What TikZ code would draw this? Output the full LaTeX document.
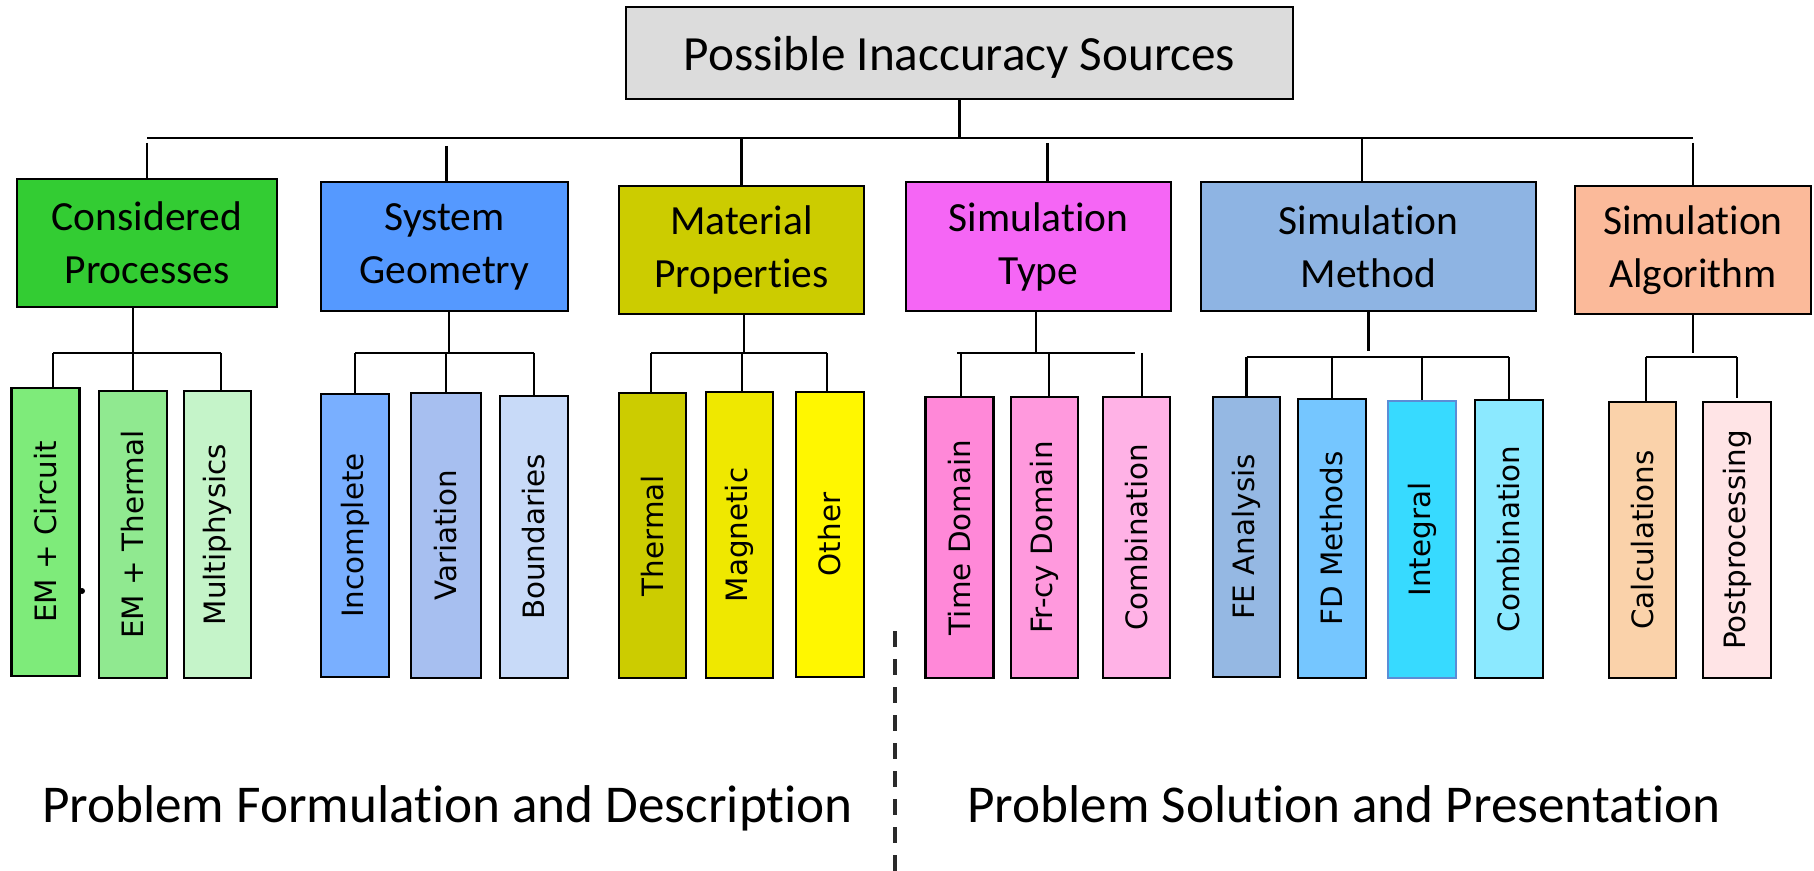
\documentclass[tikz,border=0pt]{standalone}
\usepackage{fontspec}
\usepackage{graphicx}
\setmainfont{Carlito}[Ligatures=NoCommon]
\newfontfamily\leaffont{DejaVu Sans}
\usetikzlibrary{calc}

% one drawing unit = one pixel of the layout grid
\newdimen\pu \pu=0.5pt
\newcommand\vtext[1]{\rotatebox{90}{#1}}

\definecolor{headgray}{HTML}{DCDCDC}
\definecolor{cpgreen}{HTML}{33CC33}
\definecolor{sgblue}{HTML}{5599FF}
\definecolor{mpolive}{HTML}{CCCC00}
\definecolor{stmag}{HTML}{F566F5}
\definecolor{smblue}{HTML}{8EB4E3}
\definecolor{saorange}{HTML}{FBBA9A}
\definecolor{lfA}{HTML}{7EEB7A}
\definecolor{lfB}{HTML}{90E990}
\definecolor{lfC}{HTML}{C5F4C9}
\definecolor{lfD}{HTML}{79AFFF}
\definecolor{lfE}{HTML}{A7BFF0}
\definecolor{lfF}{HTML}{C8DAF8}
\definecolor{lfG}{HTML}{CCCC00}
\definecolor{lfH}{HTML}{EFE800}
\definecolor{lfI}{HTML}{FFF700}
\definecolor{lfJ}{HTML}{FF88D8}
\definecolor{lfK}{HTML}{FF99DD}
\definecolor{lfL}{HTML}{FFB2E6}
\definecolor{lfM}{HTML}{95B8E3}
\definecolor{lfN}{HTML}{75C6FF}
\definecolor{lfO}{HTML}{37DAFF}
\definecolor{lfP}{HTML}{8BE9FF}
\definecolor{lfQ}{HTML}{FAD2AA}
\definecolor{lfR}{HTML}{FFE4E6}
\definecolor{intedge}{HTML}{5B8DD6}
\definecolor{divgray}{HTML}{2A2A2A}

\begin{document}
\begin{tikzpicture}[x=0.5pt,y=-0.5pt,
  box/.style={draw=black, line width=1.4pt, inner sep=0pt, align=center},
  head/.style={box, fill=headgray, font=\fontsize{24.6}{29}\selectfont,
    text height=20pt, text depth=2pt},
  cat/.style={box, font=\fontsize{20.75}{26.5}\selectfont},
  leaf/.style={box, font=\leaffont\fontsize{14.7}{17}\selectfont},
  foot/.style={inner sep=0pt, font=\fontsize{26.6}{31}\selectfont},
  conn/.style={draw=black, line width=1.1pt},
  divider/.style={draw=divgray, line width=1.9pt, dash pattern=on 8pt off 6pt},
  dotmark/.style={circle, fill=black, inner sep=0pt, minimum size=6\pu},
]
\useasboundingbox (0,0) rectangle (1814,871);

% root
\node[head, minimum width=667\pu, minimum height=92\pu] (root) at (959.5,53)
  {Possible Inaccuracy Sources};

% categories
\node[cat, fill=cpgreen,  minimum width=260\pu, minimum height=128\pu] (cp) at (147,243)    {Considered\\Processes};
\node[cat, fill=sgblue,   minimum width=247\pu, minimum height=129\pu] (sg) at (444.5,246.5) {System\\Geometry};
\node[cat, fill=mpolive,  minimum width=245\pu, minimum height=128\pu] (mp) at (741.5,250)  {Material\\Properties};
\node[cat, fill=stmag,    minimum width=265\pu, minimum height=129\pu] (st) at (1038.5,246.5) {Simulation\\Type};
\node[cat, fill=smblue,   minimum width=335\pu, minimum height=129\pu] (sm) at (1368.5,246.5) {Simulation\\Method};
\node[cat, fill=saorange, minimum width=236\pu, minimum height=128\pu] (sa) at (1693,250)   {Simulation\\Algorithm};

% leaves
\node[leaf, fill=lfA, minimum width=68\pu, minimum height=288\pu] (c11) at (45.5,532)  {\vtext{EM + Circuit}};
\node[leaf, fill=lfB, minimum width=68\pu, minimum height=287\pu] (c12) at (133,534.5)  {\vtext{EM + Thermal}};
\node[leaf, fill=lfC, minimum width=67\pu, minimum height=287\pu] (c13) at (217.5,534.5) {\vtext{Multiphysics}};

\node[leaf, fill=lfD, minimum width=68\pu, minimum height=283\pu] (c21) at (355,535.5) {\vtext{Incomplete}};
\node[leaf, fill=lfE, minimum width=70\pu, minimum height=285\pu] (c22) at (446,535.5) {\vtext{Variation}};
\node[leaf, fill=lfF, minimum width=68\pu, minimum height=282\pu] (c23) at (534,537)   {\vtext{Boundaries}};

\node[leaf, fill=lfG, minimum width=67\pu, minimum height=285\pu] (c31) at (652.5,535.5) {\vtext{Thermal}};
\node[leaf, fill=lfH, minimum width=67\pu, minimum height=286\pu] (c32) at (739.5,535)   {\vtext{Magnetic}};
\node[leaf, fill=lfI, minimum width=68\pu, minimum height=285\pu] (c33) at (830,534.5)   {\vtext{Other}};

\node[leaf, fill=lfJ, minimum width=68\pu, minimum height=281\pu] (c41) at (959.5,537.5)  {\vtext{Time Domain}};
\node[leaf, fill=lfK, minimum width=67\pu, minimum height=281\pu] (c42) at (1044.5,537.5) {\vtext{Fr-cy Domain}};
\node[leaf, fill=lfL, minimum width=67\pu, minimum height=281\pu] (c43) at (1136.5,537.5) {\vtext{Combination}};

\node[leaf, fill=lfM, minimum width=67\pu, minimum height=280\pu] (c51) at (1246.5,537)  {\vtext{FE Analysis}};
\node[leaf, fill=lfN, minimum width=68\pu, minimum height=279\pu] (c52) at (1332,538.5)  {\vtext{FD Methods}};
\node[leaf, fill=lfO, draw=intedge, line width=1pt, minimum width=68\pu, minimum height=277\pu] (c53) at (1422,539.5) {\vtext{Integral}};
\node[leaf, fill=lfP, minimum width=68\pu, minimum height=278\pu] (c54) at (1509,539)   {\vtext{Combination}};

\node[leaf, fill=lfQ, minimum width=67\pu, minimum height=276\pu] (c61) at (1642.5,540) {\vtext{Calculations}};
\node[leaf, fill=lfR, minimum width=68\pu, minimum height=276\pu] (c62) at (1737,540)   {\vtext{Postprocessing}};

% stray mark beside the first leaf
\node[dotmark] (dot) at (82,591) {};

% bottom captions and divider
\node[foot, anchor=base] (pfd) at (447.5,822) {Problem Formulation and Description};
\node[foot, anchor=base] (psp) at (1344,822) {Problem Solution and Presentation};
\coordinate (divT) at (895,631);
\coordinate (divB) at (895,871);
\draw[divider] (divT) -- (divB);

% main bus
\coordinate (busW) at (147,138);
\coordinate (busE) at (1693,138);
\coordinate (gapT) at (0,143);
\coordinate (gapU) at (0,146);
\draw[conn] (busW) -- (busE);
\draw[conn] (root.south) -- (root.south |- busW);

% drops to the categories
\coordinate (stJ) at ([xshift=9\pu]st.north);
\coordinate (smJ) at ([xshift=-6.5\pu]sm.north);
\draw[conn] (cp.north |- gapT) -- (cp.north);
\draw[conn] ([xshift=2\pu]sg.north |- gapU) -- ([xshift=2\pu]sg.north);
\draw[conn] (mp.north |- busW) -- (mp.north);
\draw[conn] (stJ |- gapT) -- (stJ);
\draw[conn] (smJ |- busW) -- (smJ);
\draw[conn] (sa.north |- gapT) -- (sa.north);

% considered processes
\coordinate (cpB) at (0,353);
\coordinate (c11J) at ([xshift=7.5\pu]c11.north);
\coordinate (c13J) at ([xshift=3.5\pu]c13.north);
\draw[conn] (c12.north |- cp.south) -- (c12.north);
\draw[conn] (c11J |- cpB) -- (c13J |- cpB);
\draw[conn] (c11J |- cpB) -- (c11J);
\draw[conn] (c13J |- cpB) -- (c13J);

% system geometry
\coordinate (sgB) at (0,353);
\coordinate (sgS) at ([xshift=4.5\pu]sg.south);
\draw[conn] (sgS) -- (sgS |- sgB);
\draw[conn] (c21.north |- sgB) -- (c23.north |- sgB);
\foreach \c in {c21,c22,c23} \draw[conn] (\c.north |- sgB) -- (\c.north);

% material properties
\coordinate (mpB) at (0,353);
\coordinate (mpS) at ([xshift=2.5\pu]mp.south);
\coordinate (c31J) at ([xshift=-1.5\pu]c31.north);
\coordinate (c32J) at ([xshift=2.5\pu]c32.north);
\coordinate (c33J) at ([xshift=-3\pu]c33.north);
\draw[conn] (mpS) -- (mpS |- mpB);
\draw[conn] (c31J |- mpB) -- (c33J |- mpB);
\foreach \c in {c31J,c32J,c33J} \draw[conn] (\c |- mpB) -- (\c);

% simulation type
\coordinate (stB) at (0,353);
\coordinate (stBE) at (1135,353);
\coordinate (stS) at ([xshift=-2.5\pu]st.south);
\coordinate (c41J) at ([xshift=1.5\pu]c41.north);
\coordinate (c42J) at ([xshift=4.5\pu]c42.north);
\coordinate (c43J) at ([xshift=5.5\pu]c43.north);
\draw[conn] (stS) -- (stS |- stB);
\draw[conn] ([xshift=-4\pu]c41J |- stB) -- (stBE);
\foreach \c in {c41J,c42J,c43J} \draw[conn] (\c |- stB) -- (\c);

% simulation method
\coordinate (smE) at (0,351);
\coordinate (smB) at (0,357);
\draw[conn] (sm.south) -- (sm.south |- smE);
\draw[conn] (c51.north |- smB) -- (c54.north |- smB);
\foreach \c in {c51,c52,c53,c54} \draw[conn] (\c.north |- smB) -- (\c.north);

% simulation algorithm
\coordinate (saE) at (0,353);
\coordinate (saB) at (0,357);
\coordinate (c61J) at ([xshift=3.5\pu]c61.north);
\draw[conn] (sa.south) -- (sa.south |- saE);
\draw[conn] (c61J |- saB) -- (c62.north |- saB);
\draw[conn] (c61J |- saB) -- (c61J);
\draw[conn] (c62.north |- saB) -- ([yshift=3\pu]c62.north);
\end{tikzpicture}
\end{document}
